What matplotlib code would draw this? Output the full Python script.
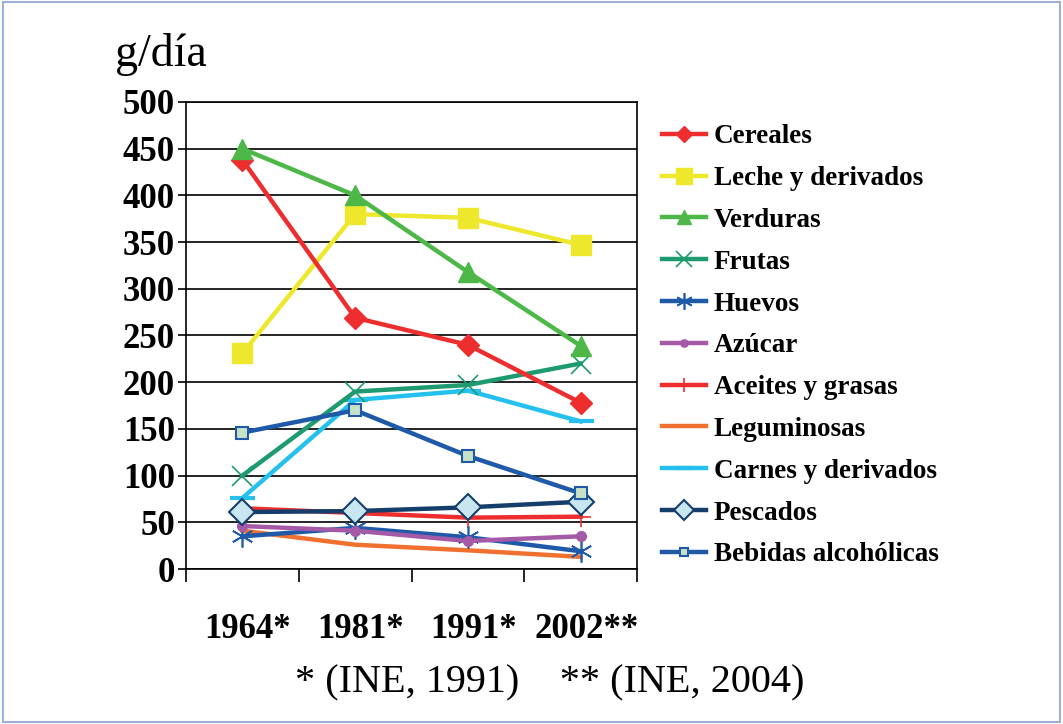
import numpy as np
import matplotlib.pyplot as plt
from matplotlib.patches import Rectangle

plt.rcParams['font.family'] = ['Liberation Serif', 'DejaVu Serif']

years = ['1964*', '1981*', '1991*', '2002**']
cereales = [438, 269, 240, 178]
leche = [231, 380, 376, 347]
verduras = [450, 400, 318, 239]
frutas = [100, 190, 197, 220]
huevos = [35, 44, 34, 19]
azucar = [46, 41, 30, 35]
aceites = [65, 60, 55, 56]
leguminosas = [41, 26, 20, 13]
carnes = [76, 181, 191, 158]
pescados = [61, 62, 66, 72]
bebidas = [146, 170, 121, 81]

fig = plt.figure(figsize=(10.63, 7.24), dpi=100)
ax = fig.add_axes([186/1063, 1-569/724, 451/1063, 467/724])

# outer border
fig.patches.append(Rectangle((0.003, 0.003), 0.994, 0.994, transform=fig.transFigure,
                             fill=False, edgecolor='#9DB0D8', lw=1.5))

x = np.arange(len(years))
lw = 3.2
ax.plot(x, cereales, color='#EE2E2E', lw=lw, marker='D', ms=11, label='Cereales', zorder=5)
ax.plot(x, leche, color='#EEE82C', lw=lw, marker='s', ms=15, label='Leche y derivados', zorder=4)
ax.plot(x, verduras, color='#4DB848', lw=lw, marker='^', ms=14, label='Verduras', zorder=5)
ax.plot(x, frutas, color='#1E9B6E', lw=lw, marker='x', ms=15, mew=1.2, label='Frutas', zorder=4)
ax.plot(x, huevos, color='#1F5AA8', lw=lw, marker=(6, 2, 0), ms=16, mew=1.2, label='Huevos', zorder=4)
ax.plot(x, azucar, color='#A55AA8', lw=lw, marker='o', ms=7, label='Azúcar', zorder=4)
ax.plot(x, aceites, color='#EE2E2E', lw=lw, marker='+', ms=14, mew=1.2, label='Aceites y grasas', zorder=3)
ax.plot(x, leguminosas, color='#F07030', lw=lw, label='Leguminosas', zorder=3)
ax.plot(x, carnes, color='#25C0EE', lw=lw, marker='_', ms=18, mew=3, label='Carnes y derivados', zorder=3)
ax.plot(x, pescados, color='#153E6A', lw=lw, marker='D', ms=13, mfc='#C8E6F0', mec='#153E6A', mew=1.5,
        label='Pescados', zorder=4)
ax.plot(x, bebidas, color='#1F5AA8', lw=lw, marker='s', ms=8, mfc='#C8E2C8', mec='#1F5AA8', mew=1.5,
        label='Bebidas alcohólicas', zorder=4)

ax.set_xlim(-0.5, 3.5)
ax.set_ylim(0, 500)
ax.set_yticks(np.arange(0, 501, 50))
ax.set_yticklabels([str(v) for v in range(0, 501, 50)], fontsize=25, fontweight='bold')
ax.yaxis.grid(True, color='black', lw=1.2)
ax.set_axisbelow(True)
for s in ax.spines.values():
    s.set_color('black')
    s.set_linewidth(1.2)
ax.tick_params(axis='y', length=6, width=1.2, pad=2)

# category boundary ticks on x axis
ax.set_xticks(np.arange(-0.5, 3.6, 1))
ax.set_xticklabels([])
ax.tick_params(axis='x', length=9, width=1.2, direction='out')
for i, lab in enumerate(years):
    ax.text(i + 0.05, -0.13, lab, transform=ax.get_xaxis_transform(), ha='center', va='center',
            fontsize=25, fontweight='bold')

fig.text(115/1063, 1-55/724, 'g/día', fontsize=33, ha='left', va='center')
fig.text(550/1063, 1-683/724, '* (INE, 1991)    ** (INE, 2004)', fontsize=29, ha='center', va='center')

leg = fig.legend(loc='upper left', bbox_to_anchor=(638/1063, 1-100/724), frameon=False,
                 prop={'size': 19.5, 'weight': 'bold'}, handlelength=1.6, labelspacing=0.62,
                 handletextpad=0.3, markerscale=0.75)

plt.savefig('out.png', dpi=100)
